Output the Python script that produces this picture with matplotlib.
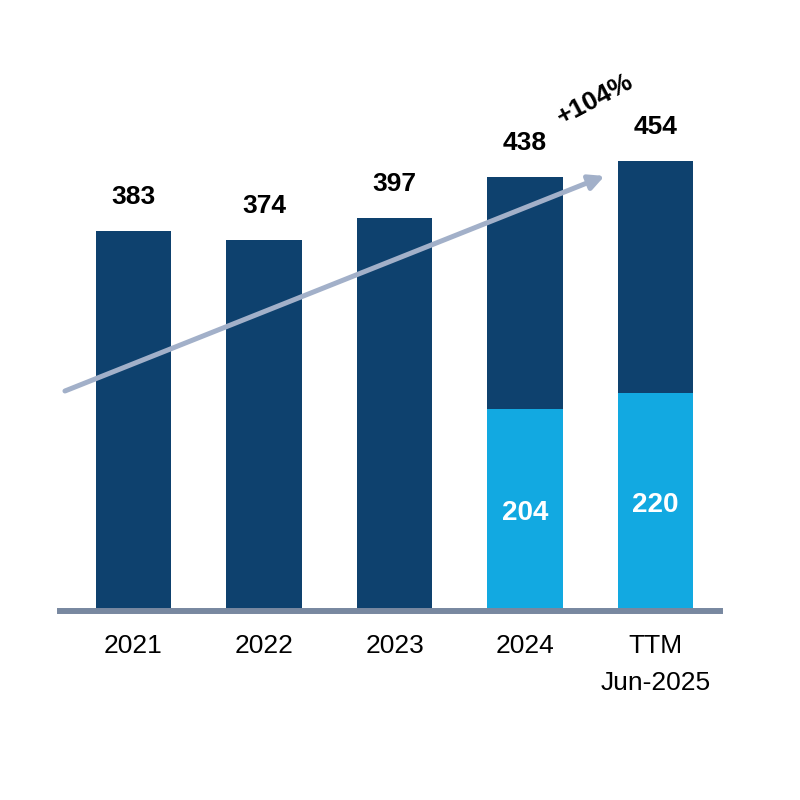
import matplotlib.pyplot as plt

categories = ['2021', '2022', '2023', '2024', 'TTM\nJun-2025']
totals = [383, 374, 397, 438, 454]
lower = [0, 0, 0, 204, 220]
growth_label = '+104%'

dark = '#0e416e'
light = '#12a9e1'
arrow_c = '#a2b0c9'
axis_c = '#7888a0'

plt.rcParams['font.family'] = ['Liberation Sans', 'DejaVu Sans']

fig = plt.figure(figsize=(8, 8), dpi=100)
ax = fig.add_axes([60 / 800, 189 / 800, 660 / 800, 551 / 800])

x = list(range(len(categories)))
upper = [t - l for t, l in zip(totals, lower)]
ax.bar(x, lower, width=0.58, color=light, zorder=2)
ax.bar(x, upper, bottom=lower, width=0.58, color=dark, zorder=2)

for xi, t in zip(x, totals):
    ax.annotate(str(t), (xi, t), xytext=(0, 24.5), textcoords='offset points',
                ha='center', va='center', fontsize=19, fontweight='bold')
for xi, l in zip(x, lower):
    if l:
        ax.text(xi, l / 2, str(l), ha='center', va='center_baseline', fontsize=20,
                fontweight='bold', color='white', zorder=3)

# growth arrow
ax.annotate('', xy=(3.61, 439), xytext=(-0.525, 222),
            arrowprops=dict(arrowstyle='-|>,head_length=0.9,head_width=0.45',
                            color=arrow_c, lw=3.6, shrinkA=0, shrinkB=0),
            annotation_clip=False, zorder=4)
ax.text(3.54, 516, growth_label, ha='center', va='center', fontsize=19,
        fontweight='bold', rotation=28)

ax.set_xlim(-0.563, 4.494)
ax.set_ylim(0, 556)
ax.set_xticks(x)
ax.set_xticklabels(categories, fontsize=19, linespacing=1.7, va='top')
ax.tick_params(axis='x', length=0, pad=16.5)
ax.set_yticks([])
for s in ['top', 'left', 'right']:
    ax.spines[s].set_visible(False)
ax.spines['bottom'].set_color(axis_c)
ax.spines['bottom'].set_linewidth(4.3)
ax.spines['bottom'].set_zorder(3)

fig.savefig('out.png', dpi=100)
